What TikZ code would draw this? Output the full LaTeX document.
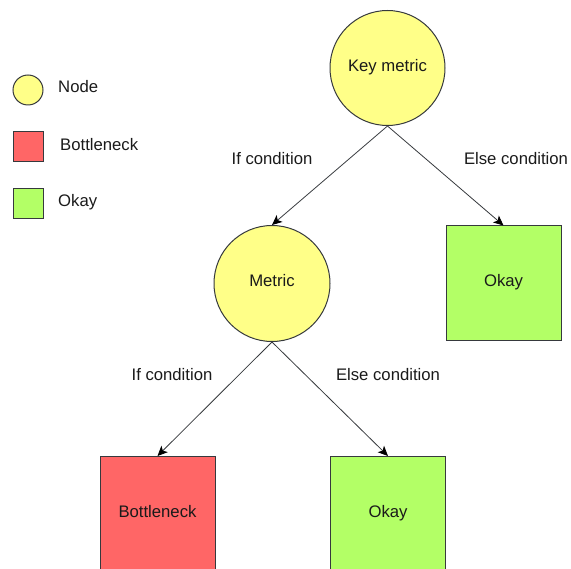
\documentclass[tikz,border=0pt]{standalone}
\usepackage{fontspec}
\setmainfont{Liberation Sans}
\usetikzlibrary{arrows.meta}
\definecolor{nodefill}{HTML}{FFFF88}
\definecolor{badfill}{HTML}{FF6666}
\definecolor{okfill}{HTML}{B3FF66}
\definecolor{edge}{HTML}{36393D}
\definecolor{ink}{HTML}{1A1A1A}
\tikzset{
  every node/.style={font=\fontsize{16.7}{20}\selectfont, text=ink},
  metricnode/.style={circle, draw=edge, fill=nodefill, line width=1pt, inner sep=0pt},
  resultbox/.style={rectangle, draw=edge, line width=1pt, inner sep=0pt,
    minimum width=115pt, minimum height=115pt},
  legendbox/.style={rectangle, draw=edge, line width=1pt, inner sep=0pt,
    minimum width=30pt, minimum height=30pt},
  branch/.style={draw=edge, line width=0.8pt,
    -{Stealth[length=10pt, width=9pt, inset=2.5pt, color=black]}},
  lifted/.style={text depth=5.5pt},
}
\begin{document}
\begin{tikzpicture}[x=1pt, y=-1pt]
  \useasboundingbox (0,0) rectangle (571,569);
  \clip (0,0) rectangle (571,569);

  % legend
  \node[metricnode, minimum size=30pt] (lgnode) at (28,90) {};
  \node[legendbox, fill=badfill] (lgbad) at (28,147) {};
  \node[legendbox, fill=okfill] (lgok) at (28,204) {};
  \node[anchor=west, inner sep=0pt] (lgnodetxt) at (58,87) {Node};
  \node[anchor=west, inner sep=0pt] (lgbadtxt) at (60,145) {Bottleneck};
  \node[anchor=west, inner sep=0pt] (lgoktxt) at (58,202) {Okay};

  % decision tree
  \node[metricnode, lifted, minimum size=115pt] (key) at (387.5,68) {Key metric};
  \node[metricnode, lifted, minimum size=116pt] (met) at (272,283.5) {Metric};
  \node[resultbox, lifted, fill=okfill] (okA) at (503.5,283.5) {Okay};
  \node[resultbox, lifted, fill=badfill] (bad) at (157.5,514) {Bottleneck};
  \node[resultbox, lifted, fill=okfill] (okB) at (388,514) {Okay};

  \draw[branch] (key.south) -- (met.north);
  \draw[branch] (key.south) -- (okA.north);
  \draw[branch] (met.south) -- (bad.north);
  \draw[branch] (met.south) -- (okB.north);

  % branch labels
  \node (lif1) at (272,159) {If condition};
  \node (lelse1) at (516,159) {Else condition};
  \node (lif2) at (172,375) {If condition};
  \node (lelse2) at (388,375) {Else condition};
\end{tikzpicture}
\end{document}
